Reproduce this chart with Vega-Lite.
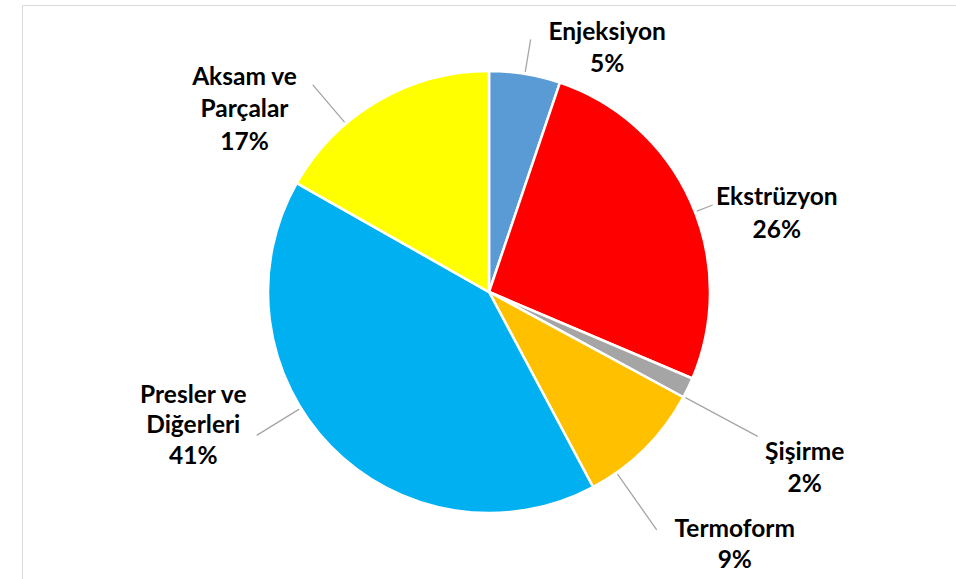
{
  "$schema": "https://vega.github.io/schema/vega-lite/v6.json",
  "width": 934,
  "height": 574,
  "padding": {"left": 22, "top": 5, "right": 0, "bottom": 0},
  "autosize": {"type": "none"},
  "background": "white",
  "view": {"stroke": "#d9d9d9", "strokeWidth": 1},
  "config": {"view": {"stroke": "#d9d9d9", "strokeWidth": 1}},
  "data": {
    "values": [
      {"n": 1, "name": "Enjeksiyon", "label": "Enjeksiyon\n5%", "value": 5.2},
      {"n": 2, "name": "Ekstrüzyon", "label": "Ekstrüzyon\n26%", "value": 26.2},
      {"n": 3, "name": "Şişirme", "label": "Şişirme\n2%", "value": 1.5},
      {"n": 4, "name": "Termoform", "label": "Termoform\n9%", "value": 9.3},
      {"n": 5, "name": "Presler ve Diğerleri", "label": "Presler ve\nDiğerleri\n41%", "value": 41.0},
      {"n": 6, "name": "Aksam ve Parçalar", "label": "Aksam ve\nParçalar\n17%", "value": 16.8}
    ]
  },
  "encoding": {
    "theta": {"field": "value", "type": "quantitative", "stack": true},
    "order": {"field": "n", "type": "quantitative"},
    "detail": {"field": "name", "type": "nominal"}
  },
  "layer": [
    {
      "mark": {"type": "arc", "outerRadius": 221, "stroke": "white", "strokeWidth": 2.5},
      "encoding": {
        "color": {
          "field": "name", "type": "nominal", "legend": null,
          "scale": {
            "domain": ["Enjeksiyon", "Ekstrüzyon", "Şişirme", "Termoform", "Presler ve Diğerleri", "Aksam ve Parçalar"],
            "range": ["#5B9BD5", "#FF0000", "#A5A5A5", "#FFC000", "#00B0F0", "#FFFF00"]
          }
        }
      }
    },
    {
      "mark": {"type": "arc", "innerRadius": 223, "outerRadius": 256, "padAngle": 3, "filled": false, "stroke": "#A6A6A6", "strokeWidth": 1.3},
      "encoding": {"strokeOpacity": {"condition": {"test": "datum.n === 1", "value": 1}, "value": 0}}
    },
    {
      "mark": {"type": "arc", "innerRadius": 223, "outerRadius": 240, "padAngle": 3, "thetaOffset": 0.05, "theta2Offset": 0.05, "filled": false, "stroke": "#A6A6A6", "strokeWidth": 1.3},
      "encoding": {"strokeOpacity": {"condition": {"test": "datum.n === 2", "value": 1}, "value": 0}}
    },
    {
      "mark": {"type": "arc", "innerRadius": 223, "outerRadius": 305, "padAngle": 3, "thetaOffset": 0.044, "theta2Offset": 0.044, "filled": false, "stroke": "#A6A6A6", "strokeWidth": 1.3},
      "encoding": {"strokeOpacity": {"condition": {"test": "datum.n === 3", "value": 1}, "value": 0}}
    },
    {
      "mark": {"type": "arc", "innerRadius": 223, "outerRadius": 291, "padAngle": 3, "thetaOffset": 0.168, "theta2Offset": 0.168, "filled": false, "stroke": "#A6A6A6", "strokeWidth": 1.3},
      "encoding": {"strokeOpacity": {"condition": {"test": "datum.n === 4", "value": 1}, "value": 0}}
    },
    {
      "mark": {"type": "arc", "innerRadius": 223, "outerRadius": 273, "padAngle": 3, "thetaOffset": 0.22, "theta2Offset": 0.22, "filled": false, "stroke": "#A6A6A6", "strokeWidth": 1.3},
      "encoding": {"strokeOpacity": {"condition": {"test": "datum.n === 5", "value": 1}, "value": 0}}
    },
    {
      "mark": {"type": "arc", "innerRadius": 223, "outerRadius": 272, "padAngle": 3, "thetaOffset": -0.177, "theta2Offset": -0.177, "filled": false, "stroke": "#A6A6A6", "strokeWidth": 1.3},
      "encoding": {"strokeOpacity": {"condition": {"test": "datum.n === 6", "value": 1}, "value": 0}}
    },
    {
      "mark": {"type": "text", "radius": 265, "dx": 75, "dy": 2, "font": "Lato", "fontWeight": "bold", "fontSize": 24.5, "lineBreak": "\n", "lineHeight": 32, "align": "center", "baseline": "middle", "color": "black"},
      "encoding": {"text": {"field": "label"}, "opacity": {"condition": {"test": "datum.n === 1", "value": 1}, "value": 0}}
    },
    {
      "mark": {"type": "text", "radius": 265, "dx": 46, "dy": 14.5, "font": "Lato", "fontWeight": "bold", "fontSize": 24.5, "lineBreak": "\n", "lineHeight": 33, "align": "center", "baseline": "middle", "color": "black"},
      "encoding": {"text": {"field": "label"}, "opacity": {"condition": {"test": "datum.n === 2", "value": 1}, "value": 0}}
    },
    {
      "mark": {"type": "text", "radius": 265, "dx": 77, "dy": 46, "font": "Lato", "fontWeight": "bold", "fontSize": 24.5, "lineBreak": "\n", "lineHeight": 32, "align": "center", "baseline": "middle", "color": "black"},
      "encoding": {"text": {"field": "label"}, "opacity": {"condition": {"test": "datum.n === 3", "value": 1}, "value": 0}}
    },
    {
      "mark": {"type": "text", "radius": 265, "dx": 59, "dy": 50.5, "font": "Lato", "fontWeight": "bold", "fontSize": 24.5, "lineBreak": "\n", "lineHeight": 31, "align": "center", "baseline": "middle", "color": "black"},
      "encoding": {"text": {"field": "label"}, "opacity": {"condition": {"test": "datum.n === 4", "value": 1}, "value": 0}}
    },
    {
      "mark": {"type": "text", "radius": 265, "dx": -106, "dy": -81.5, "font": "Lato", "fontWeight": "bold", "fontSize": 24.5, "lineBreak": "\n", "lineHeight": 30.5, "align": "center", "baseline": "middle", "color": "black"},
      "encoding": {"text": {"field": "label"}, "opacity": {"condition": {"test": "datum.n === 5", "value": 1}, "value": 0}}
    },
    {
      "mark": {"type": "text", "radius": 265, "dx": -111, "dy": 14.5, "font": "Lato", "fontWeight": "bold", "fontSize": 24.5, "lineBreak": "\n", "lineHeight": 32.5, "align": "center", "baseline": "middle", "color": "black"},
      "encoding": {"text": {"field": "label"}, "opacity": {"condition": {"test": "datum.n === 6", "value": 1}, "value": 0}}
    }
  ]
}
